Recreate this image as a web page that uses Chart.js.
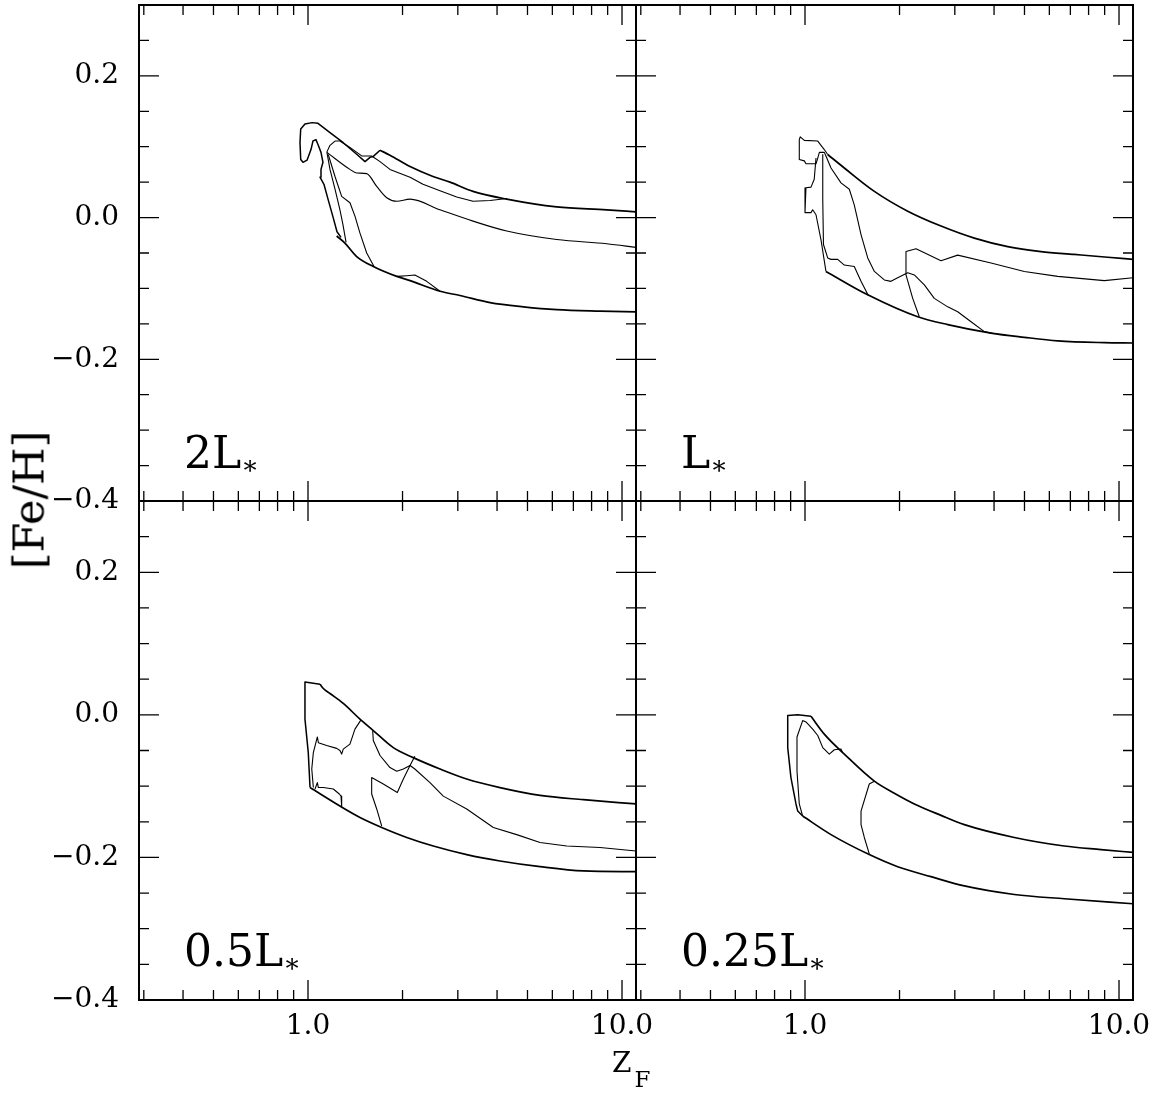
<!DOCTYPE html>
<html><head><meta charset="utf-8">
<script src="https://cdn.jsdelivr.net/npm/chart.js@4.4.0/dist/chart.umd.min.js"></script>
<style>
html,body{margin:0;padding:0;background:#fff;}
#wrap{position:relative;width:1159px;height:1094px;overflow:hidden;background:#fff;}
canvas{position:absolute;left:0;top:0;}
.lab{position:absolute;font-family:"DejaVu Serif";color:#000;white-space:nowrap;line-height:1;}
.sub{position:relative;}
</style></head><body>
<div id="wrap">
<canvas id="c0" width="1159" height="1094"></canvas>
<canvas id="c1" width="1159" height="1094"></canvas>
<canvas id="c2" width="1159" height="1094"></canvas>
<canvas id="c3" width="1159" height="1094"></canvas>
<div class="lab" style="left:184px;top:431px;font-size:44px;">2L<span class="sub" style="font-size:26px;top:6px;">∗</span></div>
<div class="lab" style="left:681px;top:431px;font-size:44px;">L<span class="sub" style="font-size:26px;top:6px;">∗</span></div>
<div class="lab" style="left:184px;top:929px;font-size:44px;">0.5L<span class="sub" style="font-size:26px;top:6px;">∗</span></div>
<div class="lab" style="left:681px;top:929px;font-size:44px;">0.25L<span class="sub" style="font-size:26px;top:6px;">∗</span></div>
<div class="lab" style="left:612px;top:1049px;font-size:28px;">Z<span class="sub" style="font-size:23px;top:15px;margin-left:3px;">F</span></div>
<div class="lab" style="left:29px;top:500px;font-size:43px;transform:translate(-50%,-50%) rotate(-90deg);">[Fe/H]</div>
</div>
<script>
// ---------- axes ----------
const xRange = [0.2896, 11.08];
const yRange = [-0.4, 0.3];
const xTickValues = [0.3,0.4,0.5,0.6,0.7,0.8,0.9,1,2,3,4,5,6,7,8,9,10];
const xMajorValues = [1, 10];
const xMajorLabels = ['1.0', '10.0'];
const yTickValues = [-0.4,-0.35,-0.3,-0.25,-0.2,-0.15,-0.1,-0.05,0,0.05,0.1,0.15,0.2,0.25,0.3];
const yMajorValues = [-0.4, -0.2, 0, 0.2];
const yMajorLabels = ['\u22120.4', '\u22120.2', '0.0', '0.2'];

// ---------- panel 2L* ----------
const L2_loop = [[1.274,-0.028],[1.237,-0.020],[1.201,0.001],[1.158,0.026],[1.124,0.047],[1.092,0.057],[1.100,0.068],[1.116,0.078],[1.100,0.092],[1.076,0.103],[1.060,0.110],[1.037,0.108],[1.022,0.096],[0.993,0.081],[0.964,0.078],[0.948,0.082],[0.943,0.106],[0.948,0.125],[0.978,0.132],[1.030,0.134],[1.076,0.133],[1.175,0.120],[1.292,0.106],[1.432,0.089],[1.519,0.079],[1.576,0.085],[1.611,0.086],[1.696,0.095]];
const L2_top = [[1.696,0.095],[1.824,0.088],[2.113,0.072],[2.500,0.058],[2.833,0.050],[3.354,0.037],[4.294,0.026],[6.194,0.015],[8.939,0.011],[11.08,0.008]];
const L2_b = [[1.147,0.092],[1.175,0.102],[1.219,0.108],[1.264,0.108],[1.360,0.099],[1.483,0.087],[1.595,0.087],[1.696,0.079],[1.824,0.068],[2.113,0.057],[2.324,0.047],[2.633,0.038],[2.976,0.029],[3.354,0.023],[3.799,0.024],[4.304,0.027]];
const L2_c = [[1.149,0.092],[1.360,0.068],[1.429,0.063],[1.538,0.062],[1.655,0.044],[1.781,0.028],[1.917,0.023],[2.113,0.026],[2.633,0.011],[3.354,-0.005],[4.294,-0.019],[6.194,-0.031],[8.939,-0.037],[11.08,-0.042]];
const L2_d = [[1.149,0.092],[1.175,0.068],[1.219,0.040],[1.264,0.011],[1.292,-0.010],[1.322,-0.035]];
const L2_e = [[1.160,0.089],[1.219,0.058],[1.280,0.030],[1.360,0.021],[1.411,0.002],[1.464,-0.022],[1.538,-0.050],[1.623,-0.069]];
const L2_low = [[1.234,-0.026],[1.311,-0.036],[1.429,-0.055],[1.614,-0.069],[1.917,-0.083],[2.113,-0.089],[2.633,-0.104],[3.049,-0.110],[3.799,-0.120],[4.851,-0.126],[6.194,-0.130],[8.510,-0.132],[11.08,-0.133]];
const L2_bump = [[1.917,-0.083],[2.063,-0.082],[2.189,-0.081],[2.388,-0.090],[2.633,-0.104]];

// ---------- panel L* ----------
const L1_up = [[1.181,0.089],[1.334,0.070],[1.663,0.037],[2.124,0.009],[2.711,-0.012],[3.461,-0.029],[4.421,-0.041],[5.644,-0.048],[7.204,-0.052],[9.204,-0.056],[11.08,-0.059]];
const L1_loop = [[1.181,0.089],[1.152,0.096],[1.098,0.108],[0.995,0.109],[0.966,0.114],[0.959,0.110],[0.959,0.082],[0.995,0.080],[1.007,0.076],[1.084,0.076],[1.098,0.084],[1.111,0.092],[1.152,0.092],[1.166,0.087],[1.210,0.070],[1.302,0.049],[1.384,0.040],[1.435,0.018],[1.508,-0.024],[1.584,-0.057],[1.663,-0.076],[1.789,-0.088],[1.878,-0.090],[1.973,-0.085],[2.124,-0.078],[2.229,-0.081],[2.399,-0.095],[2.581,-0.114],[2.848,-0.126],[3.064,-0.133],[3.379,-0.147],[3.724,-0.161],[4.008,-0.164]];
const L1_d1 = [[1.084,0.084],[1.070,0.054],[1.045,0.043],[1.007,0.042],[1.000,0.007],[1.045,0.007],[1.058,0.011],[1.084,0.004],[1.124,-0.031],[1.166,-0.076]];
const L1_d2 = [[1.139,0.089],[1.139,0.026],[1.145,-0.038],[1.181,-0.057],[1.210,-0.059],[1.271,-0.059],[1.334,-0.067],[1.435,-0.069],[1.508,-0.090],[1.591,-0.110]];
const L1_low = [[1.166,-0.076],[1.584,-0.109],[2.285,-0.140],[2.848,-0.151],[3.912,-0.163],[4.994,-0.169],[6.379,-0.174],[8.979,-0.1765],[11.08,-0.177]];
const L1_d4 = [[2.312,-0.140],[2.203,-0.114],[2.097,-0.081],[2.097,-0.048],[2.257,-0.044],[2.711,-0.061],[3.064,-0.053],[3.912,-0.064],[4.994,-0.076],[6.379,-0.083],[8.979,-0.089],[11.08,-0.085]];

// ---------- panel 0.5L* ----------
const H_loop = [[1.015,-0.102],[1.002,-0.053],[0.978,-0.006],[0.978,0.046],[1.092,0.043]];
const H_up = [[1.092,0.043],[1.119,0.037],[1.175,0.030],[1.295,0.016],[1.464,-0.006],[1.614,-0.022],[1.869,-0.046],[2.164,-0.060],[2.633,-0.076],[3.202,-0.090],[4.088,-0.102],[5.483,-0.113],[7.532,-0.119],[11.08,-0.125]];
const H_low = [[1.015,-0.102],[1.264,-0.128],[1.464,-0.144],[1.717,-0.158],[2.063,-0.172],[2.506,-0.184],[3.202,-0.196],[4.088,-0.205],[5.483,-0.213],[7.532,-0.219],[11.08,-0.220]];
const H_a = [[1.040,-0.102],[1.028,-0.076],[1.040,-0.053],[1.071,-0.031],[1.079,-0.039],[1.147,-0.043],[1.234,-0.047],[1.264,-0.050],[1.280,-0.055],[1.295,-0.048],[1.360,-0.041],[1.411,-0.020],[1.475,-0.007]];
const H_b = [[1.053,-0.104],[1.071,-0.095],[1.079,-0.102],[1.119,-0.102],[1.204,-0.104],[1.258,-0.111],[1.274,-0.114],[1.280,-0.129]];
const H_c = [[1.607,-0.022],[1.614,-0.036],[1.696,-0.057],[1.824,-0.074],[1.917,-0.079],[2.012,-0.076],[2.113,-0.071],[2.189,-0.058]];
const H_d = [[1.717,-0.156],[1.655,-0.132],[1.595,-0.111],[1.595,-0.088],[1.737,-0.097],[1.925,-0.109],[2.012,-0.090],[2.113,-0.071],[2.189,-0.076],[2.446,-0.095],[2.697,-0.114],[3.202,-0.132],[3.892,-0.158],[4.619,-0.168],[5.483,-0.179],[6.668,-0.184],[8.510,-0.186],[11.08,-0.191]];

// ---------- panel 0.25L* ----------
const Q_loop = [[0.983,-0.142],[0.948,-0.135],[0.936,-0.125],[0.902,-0.088],[0.881,-0.046],[0.881,-0.001],[0.948,0.000],[1.045,-0.002]];
const Q_up = [[1.045,-0.002],[1.152,-0.027],[1.334,-0.055],[1.663,-0.093],[1.925,-0.110],[2.229,-0.125],[2.711,-0.141],[3.217,-0.154],[4.641,-0.172],[6.695,-0.184],[8.763,-0.189],[11.08,-0.193]];
const Q_in = [[0.983,-0.142],[0.959,-0.125],[0.943,-0.079],[0.943,-0.031],[0.983,-0.008],[1.007,-0.010],[1.058,-0.020],[1.098,-0.029],[1.139,-0.046],[1.195,-0.055],[1.240,-0.049],[1.302,-0.048],[1.318,-0.053]];
const Q_low = [[0.983,-0.142],[1.210,-0.168],[1.602,-0.196],[1.973,-0.213],[2.519,-0.227],[3.217,-0.240],[4.641,-0.252],[6.695,-0.258],[11.08,-0.265]];
const Q_x = [[1.663,-0.093],[1.602,-0.097],[1.508,-0.135],[1.508,-0.154],[1.545,-0.172],[1.602,-0.195]];

// ---------- panels: smooth = monotone-x curves ----------
const panels = [
  {canvas:'c0', col:0, row:0, smooth:[L2_top, L2_low], smoothThin:[L2_c], heavy:[L2_loop], thin:[L2_b, L2_d, L2_e, L2_bump]},
  {canvas:'c1', col:1, row:0, smooth:[L1_up, L1_low], smoothThin:[], heavy:[], thin:[L1_loop, L1_d1, L1_d2, L1_d4]},
  {canvas:'c2', col:0, row:1, smooth:[H_up, H_low], smoothThin:[], heavy:[H_loop], thin:[H_a, H_b, H_c, H_d]},
  {canvas:'c3', col:1, row:1, smooth:[Q_up, Q_low], smoothThin:[], heavy:[Q_loop], thin:[Q_in, Q_x]}
];

const near = (a, b) => Math.abs(a - b) < 1e-9 * Math.max(1, Math.abs(b));
const isXMajor = v => xMajorValues.some(m => near(v, m));
const isYMajor = v => yMajorValues.some(m => near(v, m));

const frameTicks = {
  id: 'frameTicks',
  afterDatasetsDraw(chart) {
    const {ctx, chartArea: a, scales: {x, y}} = chart;
    ctx.save();
    ctx.strokeStyle = '#000';
    ctx.lineWidth = 1.3;
    ctx.beginPath();
    xTickValues.forEach(v => {
      const px = x.getPixelForValue(v);
      const len = isXMajor(v) ? 20 : 10;
      ctx.moveTo(px, a.bottom); ctx.lineTo(px, a.bottom - len);
      ctx.moveTo(px, a.top); ctx.lineTo(px, a.top + len);
    });
    yTickValues.forEach(v => {
      const py = y.getPixelForValue(v);
      const len = isYMajor(v) ? 20 : 10;
      ctx.moveTo(a.left, py); ctx.lineTo(a.left + len, py);
      ctx.moveTo(a.right, py); ctx.lineTo(a.right - len, py);
    });
    ctx.stroke();
    ctx.lineWidth = 2;
    ctx.strokeRect(a.left, a.top, a.right - a.left, a.bottom - a.top);
    ctx.restore();
  }
};

const W = 1159, H = 1094;
panels.forEach(p => {
  const L = [139, 636][p.col], R = [636, 1133][p.col];
  const T = [5, 501][p.row], B = [501, 1000][p.row];
  const yw = p.col === 0 ? 100 : 10;
  const xh = 60;
  const ds = [];
  const mk = (c, w, smooth) => ({
    data: c.map(q => ({x: q[0], y: q[1]})),
    showLine: true, borderColor: '#000', backgroundColor: '#000',
    borderWidth: w, pointRadius: 0, fill: false,
    tension: smooth ? 0.4 : 0, cubicInterpolationMode: smooth ? 'monotone' : 'default',
    borderJoinStyle: 'round'
  });
  p.smooth.forEach(c => ds.push(mk(c, 1.7, true)));
  p.smoothThin.forEach(c => ds.push(mk(c, 1.1, true)));
  p.heavy.forEach(c => ds.push(mk(c, 1.5, false)));
  p.thin.forEach(c => ds.push(mk(c, 1.1, false)));
  const zeroPad = s => { s.paddingTop = 0; s.paddingBottom = 0; s.paddingLeft = 0; s.paddingRight = 0; };
  new Chart(document.getElementById(p.canvas), {
    type: 'scatter',
    data: {datasets: ds},
    plugins: [frameTicks],
    options: {
      responsive: false, animation: false, devicePixelRatio: 1,
      layout: {padding: {left: L - yw, right: W - R, top: T, bottom: H - B - xh}},
      plugins: {legend: {display: false}, tooltip: {enabled: false}},
      scales: {
        x: {
          type: 'logarithmic', position: 'bottom', min: xRange[0], max: xRange[1],
          grid: {display: false, drawTicks: false}, border: {display: false},
          afterBuildTicks: s => { s.ticks = xTickValues.map(v => ({value: v})); },
          afterFit: s => { s.height = xh; zeroPad(s); },
          ticks: {
            autoSkip: false, maxRotation: 0, minRotation: 0, padding: 10, color: '#000',
            font: {family: 'DejaVu Serif', size: 28},
            callback: v => {
              if (p.row !== 1) return '';
              const i = xMajorValues.findIndex(m => near(v, m));
              return i >= 0 ? xMajorLabels[i] : '';
            }
          }
        },
        y: {
          type: 'linear', position: 'left', min: yRange[0], max: yRange[1],
          grid: {display: false, drawTicks: false}, border: {display: false},
          afterBuildTicks: s => { s.ticks = yTickValues.map(v => ({value: v})); },
          afterFit: s => { s.width = yw; zeroPad(s); },
          ticks: {
            autoSkip: false, padding: 20, color: '#000',
            font: {family: 'DejaVu Serif', size: 28},
            callback: v => {
              if (p.col !== 0) return '';
              const i = yMajorValues.findIndex(m => near(v, m));
              return i >= 0 ? yMajorLabels[i] : '';
            }
          }
        }
      }
    }
  });
});
</script>
</body></html>
